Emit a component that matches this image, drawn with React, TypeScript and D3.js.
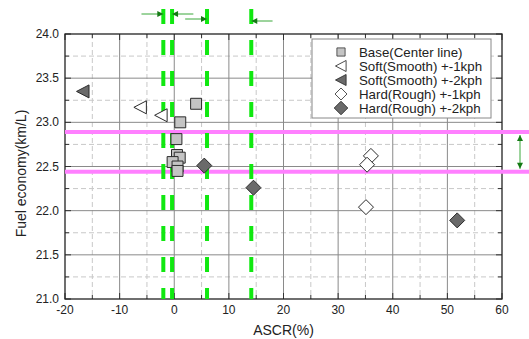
import React, { useEffect, useRef } from 'react';
import * as d3 from 'd3';

// Data: [ASCR(%), fuel economy(km/L)]
const baseCenter = [[4, 23.21], [1.1, 23.0], [0.4, 22.81], [0.5, 22.63], [1.0, 22.6], [-0.3, 22.55], [0.6, 22.5], [0.6, 22.45]];
const softOne = [[-6.2, 23.17], [-2.4, 23.08]];
const softTwo = [[-16.7, 23.35]];
const hardOne = [[36, 22.62], [35.3, 22.52], [35.1, 22.04]];
const hardTwo = [[5.5, 22.51], [14.5, 22.26], [51.8, 21.89]];

const legendLabels = ['Base(Center line)', 'Soft(Smooth) +-1kph', 'Soft(Smooth) +-2kph', 'Hard(Rough) +-1kph', 'Hard(Rough) +-2kph'];
const xTicks = [-20, -10, 0, 10, 20, 30, 40, 50, 60];
const yTicks = [21.0, 21.5, 22.0, 22.5, 23.0, 23.5, 24.0];
const greenLines = [-2, -0.4, 6, 14.1];
const pinkLines = [22.89, 22.44];
// [from, to, y in px] for the top arrows
const topArrows = [[-6, -2, 14], [3.5, -0.4, 14], [2, 6, 19], [18, 14.1, 21]];

function App() {
    const ref = useRef(null);
    const width = 529;
    const height = 339;
    const margin = { top: 34, right: 27, bottom: 40, left: 65 };

    useEffect(() => {
        drawChart();
    });

    function drawChart() {
        const root = d3.select(ref.current);
        root.selectAll('*').remove();

        const svg = root
            .append('svg')
            .attr('width', width)
            .attr('height', height)
            .style('position', 'absolute')
            .style('left', 0)
            .style('top', 0)
            .style('background', '#ffffff')
            .style('font-family', 'Liberation Sans, Arial, sans-serif');

        const x = d3.scaleLinear().domain([-20, 60]).range([margin.left, width - margin.right]);
        const y = d3.scaleLinear().domain([21, 24]).range([height - margin.bottom, margin.top]);
        const [x0, x1] = x.range();
        const [y1, y0] = y.range();

        const defs = svg.append('defs');
        ['arrowEnd', 'arrowStart'].forEach((name, i) => {
            defs.append('marker')
                .attr('id', name)
                .attr('viewBox', '0 0 10 10')
                .attr('refX', i === 0 ? 10 : 0)
                .attr('refY', 5)
                .attr('markerWidth', 8)
                .attr('markerHeight', 6)
                .attr('markerUnits', 'userSpaceOnUse')
                .attr('orient', 'auto')
                .append('path')
                .attr('d', i === 0 ? 'M0,0 L10,5 L0,10 z' : 'M10,0 L0,5 L10,10 z')
                .attr('fill', '#157a15');
        });

        // Minor grid
        const minorX = d3.range(-15, 60, 10);
        const minorY = d3.range(21.25, 24, 0.5);
        svg.append('g').selectAll('line').data(minorX).enter().append('line')
            .attr('x1', d => x(d)).attr('x2', d => x(d)).attr('y1', y0).attr('y2', y1)
            .attr('stroke', '#c8c8c8').attr('stroke-dasharray', '5,3');
        svg.append('g').selectAll('line').data(minorY).enter().append('line')
            .attr('y1', d => y(d)).attr('y2', d => y(d)).attr('x1', x0).attr('x2', x1)
            .attr('stroke', '#c8c8c8').attr('stroke-dasharray', '5,3');

        // Major grid
        svg.append('g').selectAll('line').data(xTicks.slice(1, -1)).enter().append('line')
            .attr('x1', d => x(d)).attr('x2', d => x(d)).attr('y1', y0).attr('y2', y1)
            .attr('stroke', '#8a8a8a').attr('stroke-width', 1);
        svg.append('g').selectAll('line').data(yTicks.slice(1, -1)).enter().append('line')
            .attr('y1', d => y(d)).attr('y2', d => y(d)).attr('x1', x0).attr('x2', x1)
            .attr('stroke', '#8a8a8a').attr('stroke-width', 1);

        // Ticks pointing inward on all sides
        const ticks = svg.append('g').attr('stroke', '#333').attr('stroke-width', 1);
        xTicks.concat(minorX).forEach(t => {
            const len = xTicks.includes(t) ? 6 : 4;
            ticks.append('line').attr('x1', x(t)).attr('x2', x(t)).attr('y1', y1).attr('y2', y1 - len);
            ticks.append('line').attr('x1', x(t)).attr('x2', x(t)).attr('y1', y0).attr('y2', y0 + len);
        });
        yTicks.concat(minorY).forEach(t => {
            const len = yTicks.includes(t) ? 6 : 4;
            ticks.append('line').attr('y1', y(t)).attr('y2', y(t)).attr('x1', x0).attr('x2', x0 + len);
            ticks.append('line').attr('y1', y(t)).attr('y2', y(t)).attr('x1', x1).attr('x2', x1 - len);
        });

        // Frame
        svg.append('rect')
            .attr('x', x0).attr('y', y0).attr('width', x1 - x0).attr('height', y1 - y0)
            .attr('fill', 'none').attr('stroke', '#222').attr('stroke-width', 1.3);

        // Tick labels
        svg.append('g').selectAll('text').data(xTicks).enter().append('text')
            .attr('x', d => x(d)).attr('y', y1 + 15)
            .attr('text-anchor', 'middle').attr('font-size', 12).attr('fill', '#222')
            .text(d => d);
        svg.append('g').selectAll('text').data(yTicks).enter().append('text')
            .attr('x', x0 - 6).attr('y', d => y(d) + 4)
            .attr('text-anchor', 'end').attr('font-size', 12).attr('fill', '#222')
            .text(d => d.toFixed(1));

        // Axis titles
        svg.append('text')
            .attr('x', (x0 + x1) / 2).attr('y', 335)
            .attr('text-anchor', 'middle').attr('font-size', 14).attr('fill', '#222')
            .text('ASCR(%)');
        svg.append('text')
            .attr('transform', `translate(26, ${(y0 + y1) / 2 + 7}) rotate(-90)`)
            .attr('text-anchor', 'middle').attr('font-size', 14).attr('fill', '#222')
            .text('Fuel economy(km/L)');

        // Pink reference lines
        svg.append('g').selectAll('line').data(pinkLines).enter().append('line')
            .attr('x1', x0).attr('x2', width).attr('y1', d => y(d)).attr('y2', d => y(d))
            .attr('stroke', '#ff80ff').attr('stroke-width', 4);

        // Green dashed lines
        svg.append('g').selectAll('line').data(greenLines).enter().append('line')
            .attr('x1', d => x(d)).attr('x2', d => x(d)).attr('y1', 9).attr('y2', y1)
            .attr('stroke', '#10e810').attr('stroke-width', 4)
            .attr('stroke-dasharray', '15,16');

        // Top arrows
        svg.append('g').selectAll('line').data(topArrows).enter().append('line')
            .attr('x1', d => x(d[0])).attr('x2', d => x(d[1]))
            .attr('y1', d => d[2]).attr('y2', d => d[2])
            .attr('stroke', '#3aa83a').attr('stroke-width', 1)
            .attr('marker-end', 'url(#arrowEnd)');

        // Right-side double arrow between pink lines
        svg.append('line')
            .attr('x1', 520).attr('x2', 520)
            .attr('y1', y(pinkLines[0]) + 3).attr('y2', y(pinkLines[1]) - 3)
            .attr('stroke', '#3aa83a').attr('stroke-width', 1)
            .attr('marker-start', 'url(#arrowStart)')
            .attr('marker-end', 'url(#arrowEnd)');

        // Symbols
        const square = d3.symbol().type(d3.symbolSquare).size(120);
        const diamond = 'M0,-7.5 L7.5,0 L0,7.5 L-7.5,0 Z';
        const triangle = 'M-6.5,0 L6,-6.5 L6,6.5 Z';
        const series = [
            { data: baseCenter, path: square(), fill: '#c4c4c4' },
            { data: softOne, path: triangle, fill: '#ffffff' },
            { data: softTwo, path: triangle, fill: '#6a6a6a' },
            { data: hardOne, path: diamond, fill: '#ffffff' },
            { data: hardTwo, path: diamond, fill: '#6a6a6a' },
        ];
        series.forEach(s => {
            svg.append('g').selectAll('path').data(s.data).enter().append('path')
                .attr('d', s.path)
                .attr('transform', d => `translate(${x(d[0])}, ${y(d[1])})`)
                .attr('fill', s.fill).attr('stroke', '#2a2a2a').attr('stroke-width', 1);
        });

        // Legend
        const legend = svg.append('g');
        legend.append('rect')
            .attr('x', 312).attr('y', 39).attr('width', 179).attr('height', 79)
            .attr('fill', '#ffffff').attr('stroke', '#888').attr('stroke-width', 1);
        const legendSize = [0.75, 0.85, 0.85, 0.8, 0.9];
        legendLabels.forEach((label, i) => {
            const ly = 52 + i * 14;
            legend.append('path')
                .attr('d', series[i].path)
                .attr('transform', `translate(341, ${ly}) scale(${legendSize[i]})`)
                .attr('fill', series[i].fill).attr('stroke', '#2a2a2a').attr('stroke-width', 1);
            legend.append('text')
                .attr('x', 359).attr('y', ly + 4.5)
                .attr('font-size', 13.3).attr('fill', '#222')
                .text(label);
        });
    }

    return <div ref={ref} />;
}

export default App;
